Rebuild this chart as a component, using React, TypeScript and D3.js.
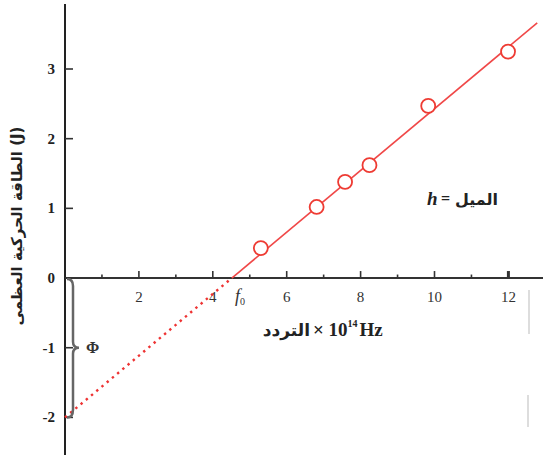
import React from "react";
import * as d3 from "d3";

const freq = [5.3, 6.81, 7.58, 8.24, 9.83, 11.99];
const energy = [0.43, 1.02, 1.38, 1.62, 2.47, 3.25];
const xTicksMajor = [2, 4, 6, 8, 10, 12];
const xTicksMinor = [1, 3, 5, 7, 9, 11];
const yTicks = [3, 2, 1, 0, -1, -2];
const fitIntercept = -2;
const fitSlope = 0.443;
const fitEnd = 12.78;

const W = 543;
const H = 459;

export default function App() {
  const x = d3.scaleLinear().domain([0, 12]).range([65, 508.4]);
  const y = d3.scaleLinear().domain([-2, 3]).range([417.4, 69]);
  const f0 = -fitIntercept / fitSlope;
  const fit = (v: number) => fitIntercept + fitSlope * v;
  const line = d3
    .line<number>()
    .x((d) => x(d))
    .y((d) => y(fit(d)));
  const serif = "'Liberation Serif', 'Times New Roman', serif";
  const arab = "'DejaVu Sans', sans-serif";
  const x0 = x(0);
  const y0 = y(0);
  const ym1 = y(-1);
  const ym2 = y(-2);
  const bx = x0 + 8;
  const bracePath = `M ${x0 + 2} ${y0 + 1} Q ${bx} ${y0 + 1} ${bx} ${y0 + 8} L ${bx} ${ym1 - 6} Q ${bx} ${ym1} ${bx + 6} ${ym1} Q ${bx} ${ym1} ${bx} ${ym1 + 6} L ${bx} ${ym2 - 8} Q ${bx} ${ym2} ${x0 + 2} ${ym2}`;
  return (
    <svg
      width={W}
      height={H}
      style={{ position: "absolute", left: 0, top: 0, background: "#fff" }}
    >
      {/* faint artifacts on right */}
      <line x1={529} x2={529} y1={290} y2={334} stroke="#bbb" strokeWidth={1} />
      <line x1={528} x2={528} y1={395} y2={427} stroke="#bbb" strokeWidth={1} />
      {/* axes */}
      <line x1={x0} x2={x0} y1={4} y2={455} stroke="#222" strokeWidth={2} />
      <line x1={x0} x2={543} y1={y0} y2={y0} stroke="#333" strokeWidth={2} />
      {/* y ticks */}
      {yTicks.map((t) => (
        <g key={"y" + t}>
          {t !== 0 && (
            <line x1={x0} x2={x0 + 8} y1={y(t)} y2={y(t)} stroke="#333" strokeWidth={1.6} />
          )}
          <text
            x={x0 - 10}
            y={y(t) + 5}
            textAnchor="end"
            fontFamily={serif}
            fontSize={15}
            fontWeight="bold"
            fill="#222"
          >
            {t < 0 ? "-" + Math.abs(t) : String(t)}
          </text>
        </g>
      ))}
      {/* x ticks */}
      {xTicksMajor.map((t) => (
        <g key={"x" + t}>
          <line x1={x(t)} x2={x(t)} y1={y0} y2={y0 - 7} stroke="#333" strokeWidth={t === 12 ? 3 : 1.6} />
          <text
            x={x(t)}
            y={y0 + 24}
            textAnchor="middle"
            fontFamily={serif}
            fontSize={15}
            fill="#333"
          >
            {t}
          </text>
        </g>
      ))}
      {xTicksMinor.map((t) => (
        <line key={"m" + t} x1={x(t)} x2={x(t)} y1={y0} y2={y0 - 3.5} stroke="#333" strokeWidth={1.6} />
      ))}
      {/* fit lines */}
      <path
        d={line([0, f0]) || ""}
        fill="none"
        stroke="#ee3333"
        strokeWidth={2.4}
        strokeDasharray="2.4 4.4"
      />
      <path d={line([f0, fitEnd]) || ""} fill="none" stroke="#f04848" strokeWidth={1.6} />
      {/* data points */}
      {freq.map((f, i) => (
        <circle
          key={i}
          cx={x(f)}
          cy={y(energy[i])}
          r={7}
          fill="#fff"
          stroke="#ee3b33"
          strokeWidth={1.8}
        />
      ))}
      {/* brace */}
      <path d={bracePath} fill="none" stroke="#666" strokeWidth={2.5} />
      <text x={x0 + 21} y={ym1 + 5} fontFamily={serif} fontSize={16} fontWeight="bold" fill="#333">
        Φ
      </text>
      {/* f0 label */}
      <text x={x(4.6)} y={y0 + 24} fontFamily={serif} fontSize={18} fontStyle="italic" fill="#333">
        f
        <tspan fontSize={10} dy={3} fontStyle="normal">
          0
        </tspan>
      </text>
      {/* slope label */}
      <text x={427} y={205} fontFamily={serif} fontSize={19} fontStyle="italic" fontWeight="bold" fill="#222">
        h
      </text>
      <text x={441} y={204} fontFamily={serif} fontSize={16} fontWeight="bold" fill="#222">
        =
      </text>
      <text x={498} y={205} textAnchor="end" fontFamily={arab} fontSize={16} fontWeight="bold" fill="#222">
        الميل
      </text>
      {/* x label */}
      <text x={310} y={336} textAnchor="end" fontFamily={arab} fontSize={17} fontWeight="bold" fill="#222">
        التردد
      </text>
      <text x={313} y={336} fontFamily={serif} fontSize={19} fontWeight="bold" fill="#222">
        × 10
        <tspan fontSize={10} dy={-9}>
          14
        </tspan>
        <tspan dy={9} dx={2}>
          Hz
        </tspan>
      </text>
      {/* y label */}
      <text
        transform={`translate(22, 226) rotate(-90)`}
        textAnchor="middle"
        direction="ltr"
        fontFamily={arab}
        fontSize={15}
        fontWeight="bold"
        fill="#222"
      >
        الطاقة الحركية العظمى (J)
      </text>
    </svg>
  );
}
